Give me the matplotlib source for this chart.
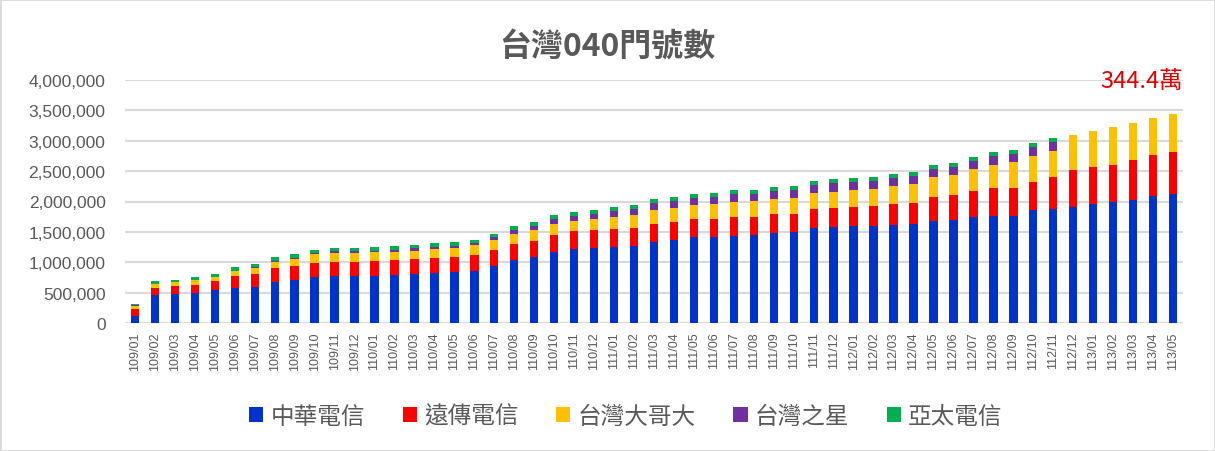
import matplotlib
matplotlib.use("Agg")
import matplotlib.pyplot as plt
from matplotlib.patches import Rectangle
import numpy as np

months = (["109/%02d" % m for m in range(1, 13)] + ["110/%02d" % m for m in range(1, 13)] +
          ["111/%02d" % m for m in range(1, 13)] + ["112/%02d" % m for m in range(1, 13)] +
          ["113/%02d" % m for m in range(1, 6)])

cht = [120, 467, 478, 500, 550, 578, 594, 682, 700, 756, 773, 773, 769,
       796, 807, 824, 840, 862, 944, 1038, 1093, 1175, 1224, 1241,
       1257, 1274, 1334, 1367, 1416, 1416, 1433, 1449, 1482, 1499, 1565, 1581,
       1598, 1598, 1614, 1631, 1680, 1696, 1746, 1762, 1762, 1862, 1878, 1911,
       1960, 1993, 2026, 2092, 2125]
fet = [110, 110, 132, 132, 143, 198, 220, 226, 231, 228, 239, 239, 253,
       242, 247, 247, 247, 258, 264, 264, 258, 275, 291, 291,
       291, 291, 296, 296, 296, 296, 313, 296, 313, 296, 313, 313,
       313, 329, 346, 346, 395, 412, 428, 461, 461, 461, 527, 609,
       609, 609, 659, 675, 692]
twm = [55, 66, 66, 77, 66, 83, 94, 99, 127, 150, 139, 139, 143,
       137, 132, 148, 148, 165, 159, 165, 181, 181, 165, 181,
       198, 214, 231, 231, 231, 247, 247, 264, 247, 264, 264, 264,
       280, 280, 296, 313, 329, 329, 362, 379, 428, 428, 428, 582,
       593, 626, 609, 609, 626]
tstar = [4, 4, 4, 5, 5, 5, 6, 8, 8, 11, 39, 39, 22,
         27, 44, 33, 33, 33, 49, 71, 71, 82, 82, 77,
         99, 99, 115, 115, 115, 115, 132, 115, 132, 132, 132, 148,
         132, 132, 132, 132, 132, 132, 132, 148, 132, 148, 148, 0,
         0, 0, 0, 0, 0]
aptg = [30, 38, 33, 50, 50, 50, 50, 66, 72, 56, 44, 44, 66,
        66, 55, 66, 66, 49, 49, 60, 60, 66, 71, 71,
        66, 66, 66, 66, 66, 66, 66, 66, 66, 66, 66, 66,
        66, 66, 66, 66, 66, 66, 66, 66, 66, 66, 66, 0,
        0, 0, 0, 0, 0]

series_names = ["中華電信", "遠傳電信", "台灣大哥大", "台灣之星", "亞太電信"]
series_vals = [cht, fet, twm, tstar, aptg]
colors = ["#0033CC", "#FF0000", "#FFC000", "#7030A0", "#00B050"]

title = "台灣040門號數"
note = "344.4萬"
yticks = [0, 500000, 1000000, 1500000, 2000000, 2500000, 3000000, 3500000, 4000000]

cjk = ["Noto Sans CJK TC", "DejaVu Sans"]
plt.rcParams["font.family"] = ["Liberation Sans", "DejaVu Sans"]

fig = plt.figure(figsize=(12.15, 4.52), dpi=100)
fig.patches.append(Rectangle((0, 0), 1, 1, transform=fig.transFigure, fill=False,
                             edgecolor="#d9d9d9", linewidth=2))
ax = fig.add_axes([125 / 1215, 1 - 324 / 452, 1058 / 1215, 243 / 452])

x = np.arange(len(months))
bottom = np.zeros(len(months))
handles = []
for name, vals, c in zip(series_names, series_vals, colors):
    v = np.array(vals, dtype=float) * 1000
    h = ax.bar(x, v, width=0.42, bottom=bottom, color=c, label=name, zorder=3)
    handles.append(h)
    bottom += v

ax.set_xlim(-0.5, len(months) - 0.5)
ax.set_ylim(0, 4000000)
ax.set_yticks(yticks)
ax.set_yticklabels([f"{t:,}" for t in yticks], fontsize=12.5, color="#595959")
ax.set_xticks(x)
ax.set_xticklabels(months, rotation=90, fontsize=9, color="#595959")
ax.tick_params(axis="both", length=0)
ax.tick_params(axis="y", pad=14)
ax.tick_params(axis="x", pad=6)
for s in ax.spines.values():
    s.set_visible(False)
ax.grid(axis="y", color="#d9d9d9", linewidth=1.5, zorder=0)
ax.axhline(0, color="#d9d9d9", linewidth=1.5, zorder=1)

fig.text(0.5, 1 - 47 / 452, title, ha="center", va="center", fontsize=23,
         fontweight="bold", color="#595959", family=cjk)
fig.text(1183 / 1215, 1 - 82 / 452, note, ha="right", va="center", fontsize=17,
         color="#E00000", family=cjk)

leg = fig.legend(handles=handles, labels=series_names, loc="center",
                 bbox_to_anchor=(626 / 1215, 1 - 417 / 452), ncol=5, frameon=False,
                 prop={"family": cjk, "size": 17, "weight": "light"}, handlelength=0.6,
                 handleheight=0.6, handletextpad=0.3, columnspacing=1.6,
                 labelcolor="#595959")

fig.savefig("out.png", dpi=100)
